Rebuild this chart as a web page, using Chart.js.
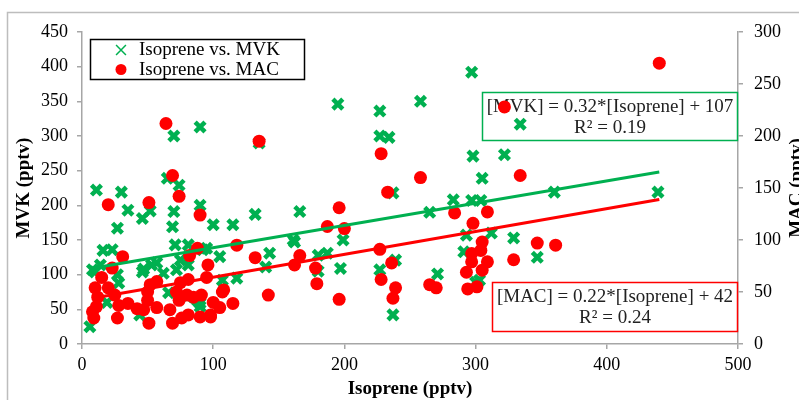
<!DOCTYPE html>
<html>
<head>
<meta charset="utf-8">
<script src="https://cdn.jsdelivr.net/npm/chart.js@4"></script>
<style>
  html, body { margin: 0; padding: 0; background: #fff; overflow: hidden; }
  #wrap { position: relative; width: 799px; height: 400px; }
</style>
</head>
<body>
<div id="wrap"><canvas id="c"></canvas></div>
<script>
// Isopren vs. MVK (linke Achse)
const isopreneMVK = [297,195,258,227,227,234,70,90,135,334,298,322,305,360,439,283,297,304,265,293,291,227,239,271,300,237,237,312,329,347,303,
  11,30,35,27,46,52,65,74,70,69,90,100,23,71,81,95,115,132,166,161,199,143,140,180,197,105,107,118,75,92,16,10,14,47,57,62,27,28,80,66,72,90,90,44,6,19,162,187,180,
  8,46,53,81,88];
const mvkValues = [392,346,350,336,300,298,300,313,290,317,271,273,239,219,219,208,207,207,190,157,133,107,121,101,89,42,218,160,153,125,92,
  222,219,193,167,181,192,239,229,191,169,200,172,136,143,143,138,172,187,191,150,150,131,111,128,109,126,92,95,121,136,135,104,114,108,117,102,100,88,68,74,107,59,54,42,25,60,147,131,105,
  107,104,114,114,63];

// Isopren vs. MAC (rechte Achse)
const isopreneMAC = [440,322,64,135,228,69,74,233,258,334,284,298,309,227,236,228,239,237,265,270,305,304,297,297,309,305,293,294,301,329,347,361,
  196,187,200,118,132,166,162,178,179,142,196,107,115,105,98,
  20,51,90,31,23,15,10,20,12,11,9,8,25,28,27,35,42,50,52,57,50,47,51,57,67,69,76,81,90,98,72,74,80,75,85,91,81,88,96,95,82,100,108];
const macValues = [270,228,212,195,183,162,142,146,160,162,126,116,127,91,78,62,54,44,57,54,98,90,87,79,79,71,69,53,55,81,97,95,
  131,113,111,95,83,85,76,73,58,47,43,50,39,35,28,
  134,136,124,84,73,64,54,54,45,36,25,31,47,37,25,39,34,42,57,60,50,33,20,35,33,20,25,28,26,26,50,42,47,59,45,47,62,92,76,64,85,40,52];

// Trendlinien (Endpunkte)
const mvkFitX = [10, 440];
const mvkFitY = [110, 248];
const macFitX = [8, 440];
const macFitY = [44, 139];

const legendLabels = ['Isoprene vs. MVK', 'Isoprene vs. MAC'];
const mvkEquation = ['[MVK] = 0.32*[Isoprene] + 107', 'R² = 0.19'];
const macEquation = ['[MAC] = 0.22*[Isoprene] + 42', 'R² = 0.24'];

const GREEN = '#00b050';
const RED = '#ff0000';
const AXIS = '#a6a6a6';
const SERIF = '"Liberation Serif", "Times New Roman", serif';

const toXY = (xs, ys) => xs.map((x, i) => ({ x: x, y: ys[i] }));

// Rahmen, Legende, Gleichungen und rechter Achsentitel
const extras = {
  id: 'extras',
  beforeDatasetsDraw(chart) {
    const ctx = chart.ctx;
    ctx.save();
    ctx.font = '19px ' + SERIF;
    ctx.fillStyle = '#222';
    ctx.textAlign = 'center';
    ctx.textBaseline = 'middle';
    // MVK-Gleichung
    ctx.strokeStyle = GREEN;
    ctx.lineWidth = 1.5;
    ctx.strokeRect(482.5, 92.5, 255, 48);
    ctx.fillText(mvkEquation[0], 610, 107);
    ctx.fillText(mvkEquation[1], 610, 128);
    // MAC-Gleichung
    ctx.strokeStyle = RED;
    ctx.strokeRect(492.5, 282.5, 245, 49);
    ctx.fillText(macEquation[0], 615, 297);
    ctx.fillText(macEquation[1], 615, 318);
    ctx.restore();
  },
  afterDraw(chart) {
    const ctx = chart.ctx;
    ctx.save();
    // äußerer Rahmen
    ctx.strokeStyle = '#bdbdbd';
    ctx.lineWidth = 1.5;
    ctx.strokeRect(7.5, 12.5, 1000, 1000);
    // Legende
    ctx.fillStyle = '#fff';
    ctx.fillRect(90, 39, 215, 40);
    ctx.strokeStyle = '#000';
    ctx.lineWidth = 1.5;
    ctx.strokeRect(90.5, 39.5, 214, 40);
    ctx.strokeStyle = GREEN;
    ctx.fillStyle = GREEN;
    Chart.helpers.drawPoint(ctx, { pointStyle: 'crossRot', radius: 7, borderWidth: 4.5, rotation: 0 }, 121, 50);
    ctx.fillStyle = RED;
    ctx.strokeStyle = RED;
    Chart.helpers.drawPoint(ctx, { pointStyle: 'circle', radius: 5.5, borderWidth: 0, rotation: 0 }, 121, 69.5);
    ctx.fillStyle = '#000';
    ctx.font = '19px ' + SERIF;
    ctx.textAlign = 'left';
    ctx.textBaseline = 'middle';
    ctx.fillText(legendLabels[0], 139, 50);
    ctx.fillText(legendLabels[1], 139, 70);
    // rechter Achsentitel (von unten nach oben, teilweise abgeschnitten)
    ctx.translate(802, 188);
    ctx.rotate(-Math.PI / 2);
    ctx.font = 'bold 19px ' + SERIF;
    ctx.textAlign = 'center';
    ctx.textBaseline = 'alphabetic';
    ctx.fillText('MAC (pptv)', 0, 0);
    ctx.restore();
  }
};

const tickFont = { family: SERIF, size: 18 };
const titleFont = { family: SERIF, size: 19, weight: 'bold' };
const gridOpts = { drawOnChartArea: false, drawTicks: true, tickLength: 5, color: AXIS, lineWidth: 1.5 };
const borderOpts = { color: AXIS, width: 1.5 };

new Chart(document.getElementById('c'), {
  type: 'scatter',
  data: {
    datasets: [
      {
        label: legendLabels[0],
        data: toXY(isopreneMVK, mvkValues),
        yAxisID: 'y',
        pointStyle: 'crossRot',
        pointRadius: 7,
        borderWidth: 4.5,
        borderColor: GREEN,
        backgroundColor: GREEN,
        order: 3
      },
      {
        label: legendLabels[1],
        data: toXY(isopreneMAC, macValues),
        yAxisID: 'y2',
        pointStyle: 'circle',
        pointRadius: 6.5,
        borderWidth: 0,
        backgroundColor: RED,
        order: 2
      },
      {
        type: 'line',
        data: toXY(mvkFitX, mvkFitY),
        yAxisID: 'y',
        borderColor: GREEN,
        borderWidth: 3,
        pointRadius: 0,
        fill: false,
        order: 1
      },
      {
        type: 'line',
        data: toXY(macFitX, macFitY),
        yAxisID: 'y2',
        borderColor: RED,
        borderWidth: 3,
        pointRadius: 0,
        fill: false,
        order: 0
      }
    ]
  },
  options: {
    responsive: true,
    maintainAspectRatio: false,
    animation: false,
    layout: { padding: { left: 0, right: 0, top: 32, bottom: 0 } },
    plugins: { legend: { display: false }, tooltip: { enabled: false } },
    scales: {
      x: {
        type: 'linear', position: 'bottom', min: 0, max: 500,
        ticks: { stepSize: 100, font: tickFont, color: '#000', padding: 5 },
        grid: gridOpts, border: borderOpts,
        title: { display: true, text: 'Isoprene (pptv)', font: titleFont, color: '#000', padding: { top: 0, bottom: 0 } },
        afterFit: s => { s.height = 56; }
      },
      y: {
        position: 'left', min: 0, max: 450,
        ticks: { stepSize: 50, font: tickFont, color: '#000', padding: 9 },
        grid: gridOpts, border: borderOpts,
        title: { display: true, text: 'MVK (pptv)', font: titleFont, color: '#000', padding: { top: 12.6, bottom: 0 } },
        afterFit: s => { s.width = 82; }
      },
      y2: {
        position: 'right', min: 0, max: 300,
        ticks: { stepSize: 50, font: tickFont, color: '#000', padding: 11 },
        grid: gridOpts, border: borderOpts,
        title: { display: false },
        afterFit: s => { s.width = 61; }
      }
    }
  },
  plugins: [extras]
});
</script>
</body>
</html>
